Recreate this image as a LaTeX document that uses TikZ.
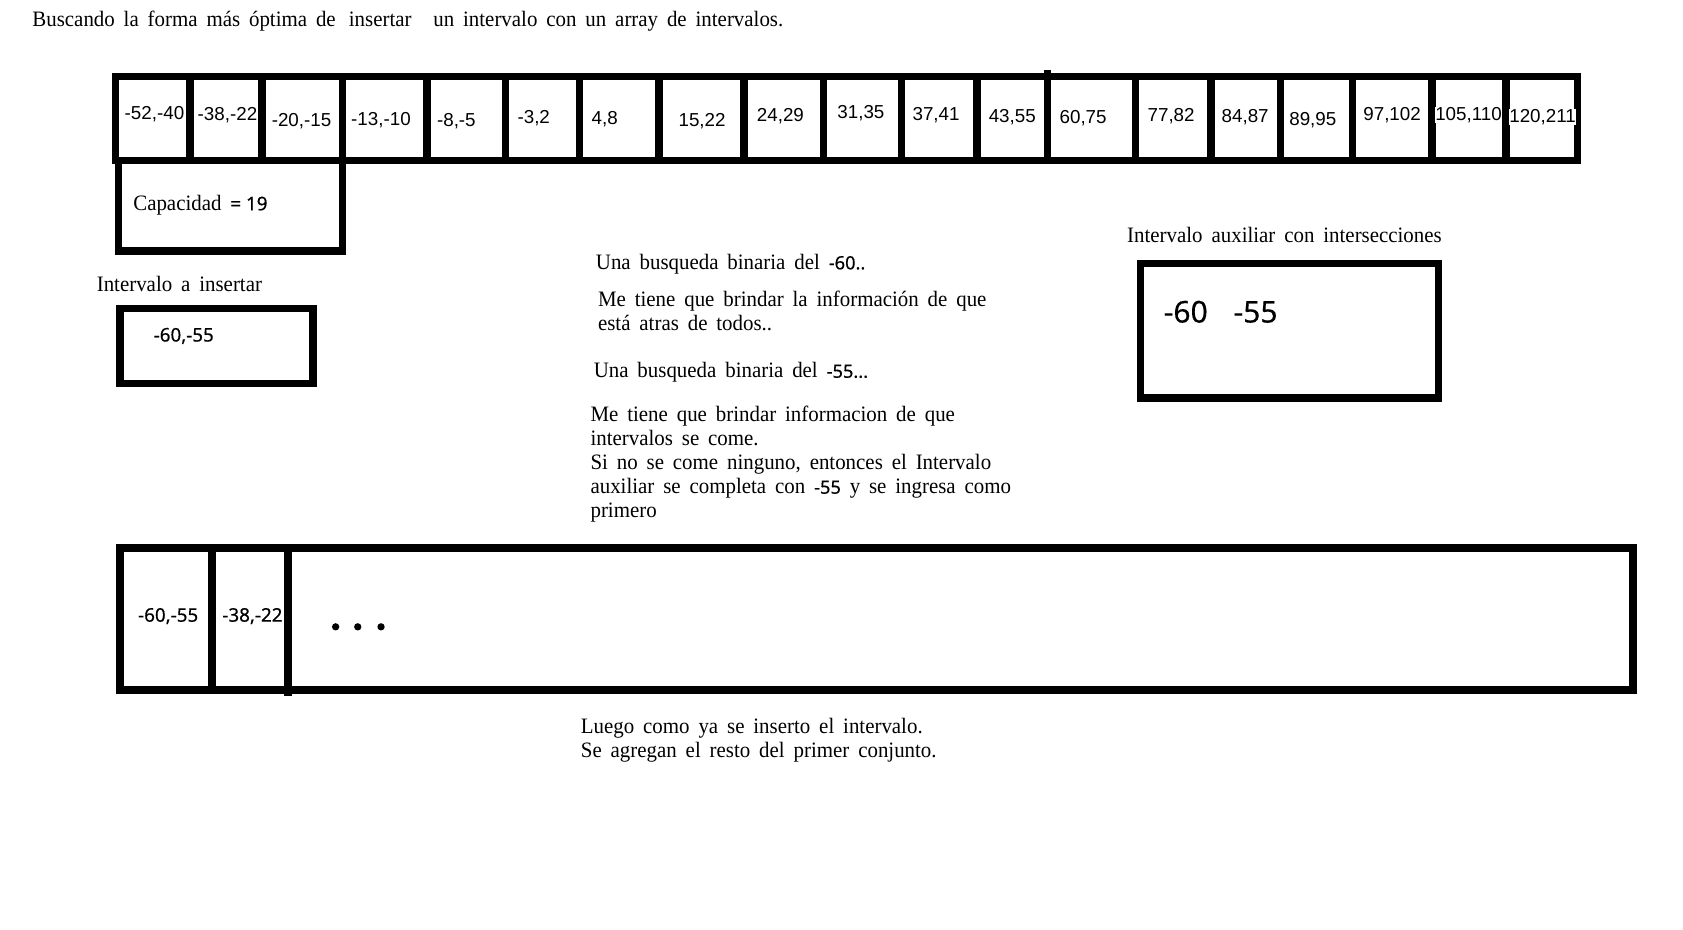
\documentclass[tikz,border=0pt]{standalone}
\usepackage{fontspec}
\setmainfont{Liberation Serif}[FakeStretch=0.95, WordSpace=1.7]
\newfontfamily\sansnum{Noto Sans}[FakeBold=0.4]
\newfontfamily\sanscelda{Liberation Sans}
\usetikzlibrary{calc}
\newcommand{\caja}[4]{%
  % #1 = x izq, #2 = y arriba, #3 = x der, #4 = y abajo
  \draw[borde] (#1,#2) rectangle (#3,#4);
}

\begin{document}
\begin{tikzpicture}[x=1pt, y=-1pt,
    borde/.style={line width=7pt, line join=miter},
    texto/.style={inner sep=0pt, anchor=west, align=left, font=\fontsize{20.5}{22.4}\selectfont},
    celda/.style={inner sep=0pt, anchor=west, font=\sanscelda\fontsize{17.5}{20}\selectfont},
    numero/.style={inner sep=0pt, anchor=west, font=\sansnum\fontsize{17.5}{20}\selectfont}]

    \useasboundingbox (0,0) rectangle (1568,866);

    \node[texto] (titulo) at (30,20) {Buscando la forma más óptima de\hspace{4pt} insertar\hspace{12pt} un intervalo con un array de intervalos.};

    % array de intervalos
    \pgfmathsetmacro{\ya}{71.5}
    \pgfmathsetmacro{\yb}{149.5}
    \caja{107.5}{\ya}{1469.5}{\yb}
    \foreach \x in {177,244,319,398,471,540,614,693,767,840,910,1058,1128,1193,1260,1334,1403}
      \draw[borde] (\x,\ya) -- (\x,\yb);
    \draw[borde] (976,65) -- (976,\yb);

    \foreach \x/\y/\t [count=\i] in {116/106/{-52,-40}, 184/107/{-38,-22}, 253/113/{-20,-15},
        327/112/{-13,-10}, 407/113/{-8,-5}, 482/110/{-3,2}, 551/111/{4,8}, 632/113/{15,22},
        705/108/{24,29}, 780/105/{31,35}, 850/107/{37,41}, 921/109/{43,55}, 987/110/{60,75},
        1069/108/{77,82}, 1138/109/{84,87}, 1201/112/{89,95}, 1270/107/{97,102}}
      \node[celda] (c\i) at (\x,\y) {\t};
    \node[celda, fill=white] (c18) at (1337,107) {105,110};
    \node[celda, fill=white] (c19) at (1406,109) {120,211};

    \caja{110.5}{\yb}{319}{234}
    \node[texto] (capacidad) at (124,191) {Capacidad {\sansnum\fontsize{17.5}{20}\selectfont = 19}};

    % intervalo a insertar
    \node[texto] (titinsertar) at (90,265) {Intervalo a insertar};
    \caja{112}{287.5}{291.5}{357.5}
    \node[numero] (insertar) at (143,313) {-60,-55};

    % explicacion
    \node[texto] (busq1) at (555,246) {Una busqueda binaria del {\sansnum\fontsize{17}{20}\selectfont -60..}};
    \node[texto] (info1) at (557,289.5) {Me tiene que brindar la información de que\\está atras de todos..};
    \node[texto] (busq2) at (553,347) {Una busqueda binaria del {\sansnum\fontsize{17}{20}\selectfont -55...}};
    \node[texto] (info2) at (550,432.5) {Me tiene que brindar informacion de que\\intervalos se come.\\Si no se come ninguno, entonces el Intervalo\\auxiliar se completa con {\sansnum\fontsize{17}{20}\selectfont -55} y se ingresa como\\primero};

    % intervalo auxiliar
    \node[texto] (titaux) at (1050,219) {Intervalo auxiliar con intersecciones};
    \caja{1062.5}{245.5}{1340}{371}
    \node[numero, font=\sansnum\fontsize{28}{30}\selectfont] (aux) at (1084,290.5) {-60\hspace{24pt}-55};

    % resultado
    \caja{112}{510.5}{1521.5}{643}
    \draw[borde] (197.7,510.5) -- (197.7,643);
    \draw[borde] (268.5,510.5) -- (268.5,648);
    \node[numero] (nuevo1) at (128.5,574) {-60,-55};
    \node[numero] (nuevo2) at (207,574) {-38,-22};
    \foreach \x in {312.7,333.3,355}
      \fill (\x,584) circle (3.4pt);

    \node[texto] (luego) at (541,690) {Luego como ya se inserto el intervalo.\\Se agregan el resto del primer conjunto.};

\end{tikzpicture}
\end{document}
